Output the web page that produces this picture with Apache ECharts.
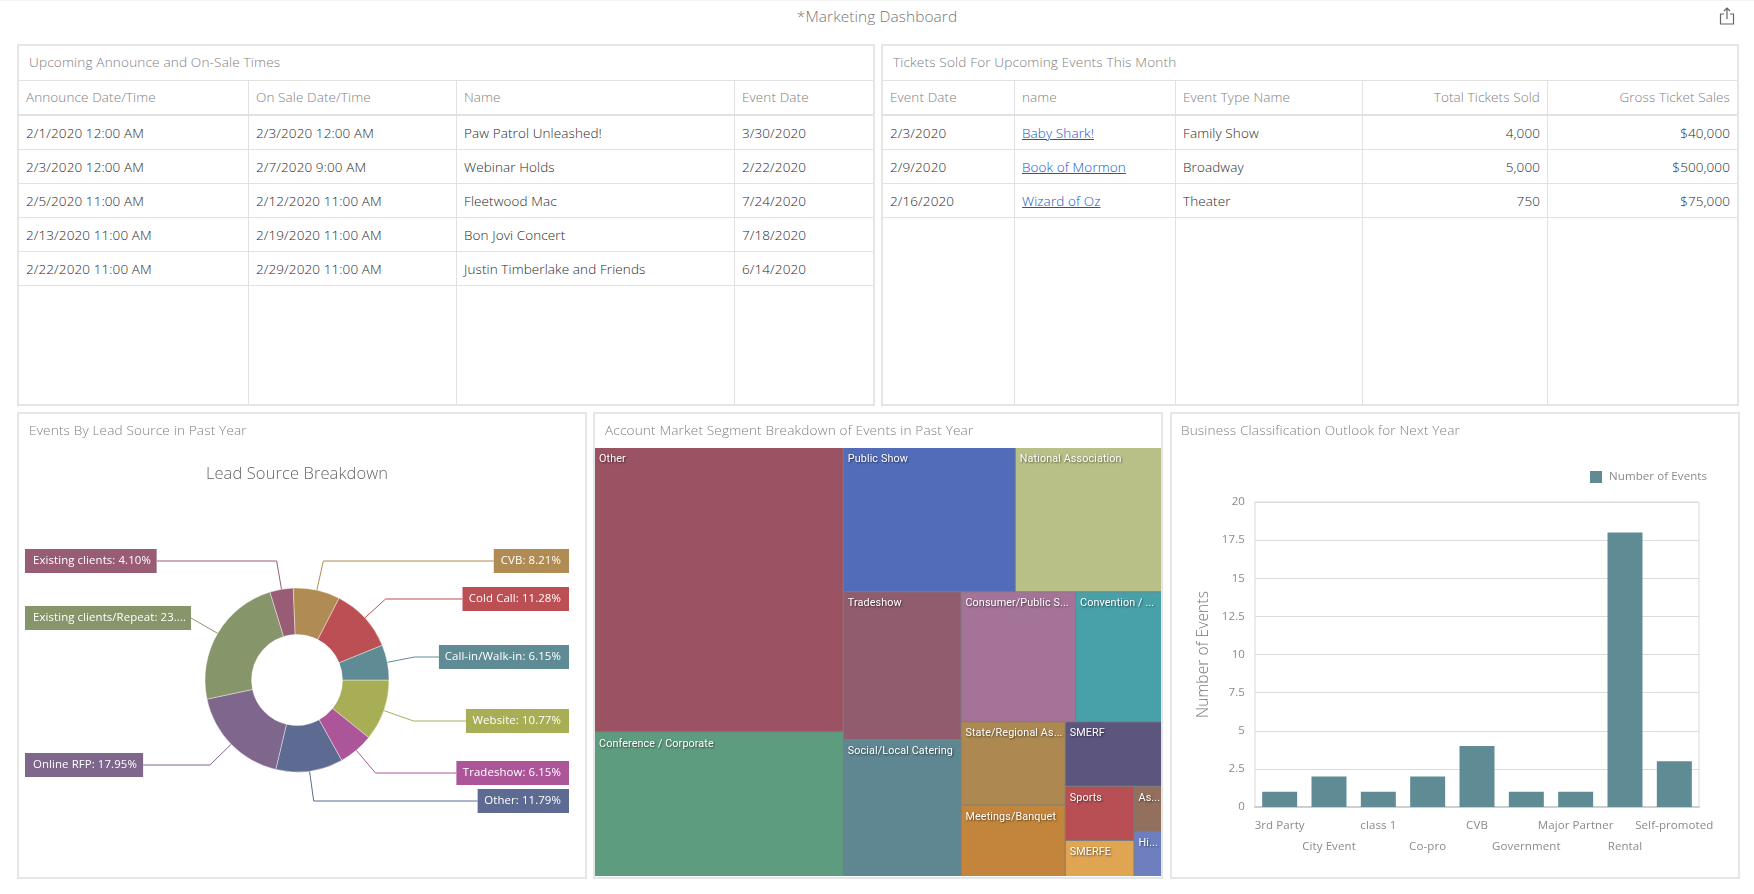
<!DOCTYPE html>
<html>
<head>
<meta charset="utf-8">
<title>Marketing Dashboard</title>
<script src="https://cdn.jsdelivr.net/npm/echarts@6/dist/echarts.min.js"></script>
<style>
html,body{margin:0;padding:0;background:#fff;width:1754px;height:894px;overflow:hidden;font-family:"Open Sans","Noto Sans",sans-serif;font-size:13.5px;color:#2a2a2a;font-weight:300;letter-spacing:.1px}
#topline{position:absolute;left:0;top:0;width:1754px;height:1px;background:#f3f3f3}
#dash{position:absolute;left:0;top:7px;width:1754px;text-align:center;font-size:15.4px;color:#777;line-height:20px}
#share{position:absolute;left:1719px;top:7px}
.panel{position:absolute;box-sizing:border-box;border:2px solid #e6e6e6;background:#fff}
.ptitle{position:absolute;color:#808080;font-size:13.6px;line-height:18px;white-space:nowrap;z-index:3;letter-spacing:.15px}
.chart{position:absolute}
.cell,.head{position:absolute;white-space:nowrap;line-height:18px}
.head{color:#808080}
.hl,.vl{position:absolute;background:#e2e2e2}
a{color:#1557c8;text-decoration:underline}
</style>
</head>
<body>
<div id="topline"></div>
<div id="dash">*Marketing Dashboard</div>
<svg id="share" width="16" height="18" viewBox="0 0 16 18" fill="none" stroke="#666" stroke-width="1.2">
  <path d="M5 7H1.5V17H14.5V7H11"/><path d="M8 12V1M5 4L8 1L11 4"/>
</svg>
<div id="root"></div>
<script>
// Upcoming announce / on-sale table
const announceHeaders = ['Announce Date/Time', 'On Sale Date/Time', 'Name', 'Event Date'];
const announceDates = ['2/1/2020 12:00 AM', '2/3/2020 12:00 AM', '2/5/2020 11:00 AM', '2/13/2020 11:00 AM', '2/22/2020 11:00 AM'];
const onSaleDates = ['2/3/2020 12:00 AM', '2/7/2020 9:00 AM', '2/12/2020 11:00 AM', '2/19/2020 11:00 AM', '2/29/2020 11:00 AM'];
const upcomingNames = ['Paw Patrol Unleashed!', 'Webinar Holds', 'Fleetwood Mac', 'Bon Jovi Concert', 'Justin Timberlake and Friends'];
const upcomingEventDates = ['3/30/2020', '2/22/2020', '7/24/2020', '7/18/2020', '6/14/2020'];

// Tickets sold table
const ticketHeaders = ['Event Date', 'name', 'Event Type Name', 'Total Tickets Sold', 'Gross Ticket Sales'];
const ticketDates = ['2/3/2020', '2/9/2020', '2/16/2020'];
const ticketNames = ['Baby Shark!', 'Book of Mormon', 'Wizard of Oz'];
const ticketTypes = ['Family Show', 'Broadway', 'Theater'];
const ticketsSold = ['4,000', '5,000', '750'];
const ticketGross = ['$40,000', '$500,000', '$75,000'];

// Lead source donut, clockwise from three o'clock
const leadNames = ['Website', 'Tradeshow', 'Other', 'Online RFP', 'Existing clients/Repeat', 'Existing clients', 'CVB', 'Cold Call', 'Call-in/Walk-in'];
const leadPercents = [10.77, 6.15, 11.79, 17.95, 23.59, 4.10, 8.21, 11.28, 6.15];
const leadColors = ['#a8ae55', '#ad5599', '#5d6b93', '#7f668c', '#86956a', '#985c74', '#b08c54', '#bb4f53', '#5f8b95'];

// Market segment treemap
const segmentNames = ['Other', 'Conference / Corporate', 'Public Show', 'National Association', 'Tradeshow', 'Social/Local Catering', 'Consumer/Public S...', 'Convention / ...', 'State/Regional As...', 'Meetings/Banquet', 'SMERF', 'Sports', 'SMERFE', 'Hi...', 'As...'];
const segmentValues = [57, 29, 20, 17, 14, 13, 12, 9, 7, 6, 5, 3, 2, 1, 1];
const segmentColors = ['#9b5263', '#5e9c7f', '#526cba', '#b9c087', '#905c6e', '#5f8791', '#a47397', '#48a0a8', '#ad8851', '#c2853b', '#5c567f', '#b74f54', '#e0a552', '#6e7fc0', '#936f5e'];

// Business classification bars
const classNames = ['3rd Party', 'City Event', 'class 1', 'Co-pro', 'CVB', 'Government', 'Major Partner', 'Rental', 'Self-promoted'];
const classCounts = [1, 2, 1, 2, 4, 1, 1, 18, 3];

const root = document.getElementById('root');
function el(cls, css, html) {
  const d = document.createElement('div');
  d.className = cls;
  Object.assign(d.style, css);
  if (html !== undefined) d.innerHTML = html;
  root.appendChild(d);
  return d;
}
function px(v) { return v + 'px'; }
function panel(x, y, w, h, title, tx) {
  el('panel', {left: px(x), top: px(y), width: px(w), height: px(h)});
  el('ptitle', {left: px(tx), top: px(y + 9)}, title);
}
function hline(x, y, w, t) { el('hl', {left: px(x), top: px(y), width: px(w), height: px(t || 1)}); }
function vline(x, y, h) { el('vl', {left: px(x), top: px(y), width: '1px', height: px(h)}); }

function table(x0, x1, colX, textX, headers, columns, rightCols) {
  hline(x0, 80, x1 - x0);
  hline(x0, 114, x1 - x0, 2);
  colX.forEach(x => vline(x, 80, 324));
  const rows = columns[0].length;
  for (let r = 0; r < rows; r++) hline(x0, 149 + r * 34, x1 - x0);
  headers.forEach((h, c) => {
    const right = rightCols && rightCols[c];
    const pos = right ? {right: px(1754 - right), top: '88px'} : {left: px(textX[c]), top: '88px'};
    el('head', pos, h);
    columns[c].forEach((v, r) => {
      const top = px(123.5 + r * 34);
      el('cell', right ? {right: px(1754 - right), top} : {left: px(textX[c]), top}, v);
    });
  });
}

panel(17, 44, 858, 362, 'Upcoming Announce and On-Sale Times', 29);
table(19, 873, [248, 456, 734], [26, 256, 464, 742], announceHeaders,
  [announceDates, onSaleDates, upcomingNames, upcomingEventDates]);

panel(881, 44, 858, 362, 'Tickets Sold For Upcoming Events This Month', 893);
table(883, 1737, [1014, 1175, 1362, 1547], [890, 1022, 1183, 0, 0], ticketHeaders,
  [ticketDates, ticketNames.map(n => '<a href="#">' + n + '</a>'), ticketTypes, ticketsSold, ticketGross],
  [0, 0, 0, 1540, 1730]);

panel(17, 412, 570, 467, 'Events By Lead Source in Past Year', 29);
panel(593, 412, 570, 467, 'Account Market Segment Breakdown of Events in Past Year', 605);
panel(1170, 412, 570, 467, 'Business Classification Outlook for Next Year', 1181);

const FONT = '"Open Sans","Noto Sans",sans-serif';
function chartDiv(x, y, w, h) {
  const d = el('chart', {left: px(x), top: px(y), width: px(w), height: px(h)});
  return echarts.init(d);
}

// Donut: boxed labels sit at fixed rows on either side, with elbowed guide lines
const labelRows = {
  'Website': 308, 'Tradeshow': 360, 'Other': 388, 'Online RFP': 352,
  'Existing clients/Repeat': 205, 'Existing clients': 148, 'CVB': 148,
  'Cold Call': 186, 'Call-in/Walk-in': 244
};
const LEFT_EDGE = 8, RIGHT_EDGE = 552, MAX_LABEL_CHARS = 27;
const pie = chartDiv(17, 413, 569, 465);
pie.setOption({
  animation: false,
  title: {
    text: 'Lead Source Breakdown', left: 275, top: 48, textAlign: 'center',
    textStyle: {fontFamily: FONT, fontSize: 16.5, fontWeight: 300, color: '#666'}
  },
  series: [{
    type: 'pie',
    center: [280, 267],
    radius: [45.5, 92],
    startAngle: 0,
    clockwise: true,
    avoidLabelOverlap: false,
    silent: true,
    itemStyle: {borderColor: '#fff', borderWidth: 0.4},
    label: {
      position: 'outside', color: '#fff', fontFamily: FONT, fontSize: 11.4,
      padding: [5, 8], lineHeight: 14,
      formatter: p => {
        const s = p.name + ': ' + p.value.toFixed(2) + '%';
        return s.length > MAX_LABEL_CHARS + 3 ? s.slice(0, MAX_LABEL_CHARS) + '....' : s;
      }
    },
    labelLine: {show: true, length: 30, length2: 10, lineStyle: {width: 1}},
    labelLayout: p => {
      const name = leadNames[p.dataIndex];
      const y = labelRows[name];
      const pts = p.labelLinePoints;
      const onRight = pts[1][0] > 280;
      const x = onRight ? RIGHT_EDGE : LEFT_EDGE;
      const t = (y - pts[0][1]) / (pts[1][1] - pts[0][1]);
      const ex = pts[0][0] + (pts[1][0] - pts[0][0]) * t;
      const rectW = p.labelRect.width;
      const edge = onRight ? x - rectW : x + rectW;
      const line = name === 'Existing clients/Repeat'
        ? [pts[0], [edge, y]]
        : [pts[0], [ex, y], [edge, y]];
      return {x, y, align: onRight ? 'right' : 'left', verticalAlign: 'middle', labelLinePoints: line};
    },
    data: leadNames.map((name, i) => ({
      name, value: leadPercents[i],
      itemStyle: {color: leadColors[i]},
      label: {backgroundColor: leadColors[i]},
      labelLine: {lineStyle: {color: leadColors[i]}}
    }))
  }]
});

// Treemap of market segments
const tree = chartDiv(595, 448, 566, 428);
tree.setOption({
  animation: false,
  series: [{
    type: 'treemap',
    left: 0, top: 0, right: 0, bottom: 0,
    squareRatio: 1,
    roam: false,
    nodeClick: false,
    silent: true,
    breadcrumb: {show: false},
    itemStyle: {borderWidth: 0, gapWidth: 1, borderColor: '#7d7d7d'},
    label: {
      show: true, position: 'insideTopLeft', distance: 4, padding: [2, 0, 0, 0], overflow: 'none',
      color: '#fff', fontFamily: 'Roboto,"Open Sans",sans-serif', fontSize: 10.8,
      textShadowColor: 'rgba(0,0,0,.55)', textShadowBlur: 2, textShadowOffsetX: 1, textShadowOffsetY: 1
    },
    data: segmentNames.map((name, i) => ({
      name, value: segmentValues[i], itemStyle: {color: segmentColors[i]}
    }))
  }]
});

// Bars by business classification
const bars = chartDiv(1170, 413, 569, 465);
bars.setOption({
  animation: false,
  legend: {
    show: true, left: 415, top: 53, itemWidth: 12, itemHeight: 12,
    textStyle: {fontFamily: FONT, fontSize: 11.5, color: '#8a8a8a', padding: [0, 0, 0, 2]},
    data: [{name: 'Number of Events', icon: 'rect'}]
  },
  grid: {left: 85, top: 89, width: 444, height: 305, show: true, borderColor: '#d9d9d9', borderWidth: 1},
  xAxis: {
    type: 'category', data: classNames,
    axisLine: {lineStyle: {color: '#cfcfcf', width: 2}},
    axisTick: {show: false},
    axisLabel: {
      interval: 0, hideOverlap: false, margin: 8, color: '#8a8a8a', fontFamily: FONT, fontSize: 11.5, lineHeight: 21,
      formatter: (v, i) => i % 2 ? '\n' + v : v
    }
  },
  yAxis: {
    type: 'value', min: 0, max: 20, interval: 2.5,
    name: 'Number of Events', nameLocation: 'middle', nameGap: 36,
    nameTextStyle: {fontFamily: FONT, fontSize: 15.5, fontWeight: 300, color: '#777'},
    axisLine: {show: false},
    axisTick: {show: false},
    axisLabel: {margin: 10, color: '#8a8a8a', fontFamily: FONT, fontSize: 11.5},
    splitLine: {lineStyle: {color: '#dcdcdc'}}
  },
  series: [{
    name: 'Number of Events', type: 'bar', barWidth: 35, silent: true,
    itemStyle: {color: '#5f8b95'},
    data: classCounts
  }]
});
</script>
</body>
</html>
